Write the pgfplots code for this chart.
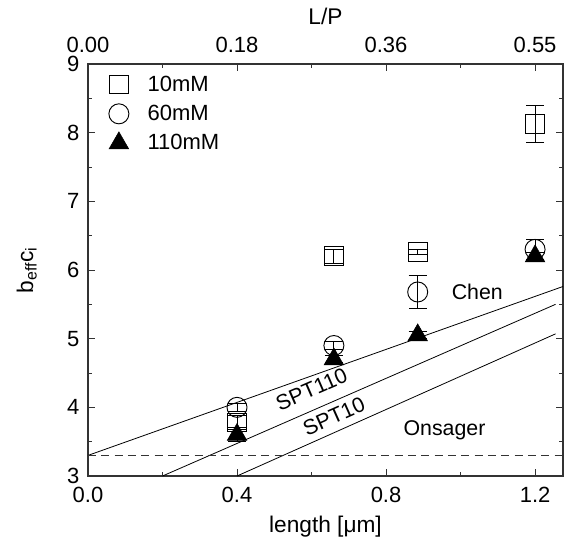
\documentclass[border=0pt]{standalone}
\usepackage{pgfplots}
\pgfplotsset{compat=1.18}
\usepackage{fontspec}
\setmainfont{Liberation Sans}

\begin{document}
\begin{tikzpicture}
\pgfplotsset{
  common/.style={
    scale only axis, width=356.25pt, height=309pt,
    xmin=0, xmax=1.275, ymin=3, ymax=9,
    tick align=inside,
    major tick length=5pt, minor tick length=2.8pt,
    axis line style={line width=0.8pt, black!80},
    every tick/.style={line width=0.7pt, black!80},
    tick label style={font=\fontsize{16.5}{19}\selectfont},
    /pgf/number format/assume math mode=true,
  }
}
% top axis: L/P
\begin{axis}[common,
    axis x line*=top, axis y line=none,
    xtick={0,0.4,0.8,1.2}, xticklabels={0.00,0.18,0.36,0.55},
    minor x tick num=1,
    xticklabel style={yshift=5pt},
    xlabel={L/P},
    every axis x label/.style={at={(axis description cs:0.5,1)}, yshift=36pt, anchor=center,
      font=\fontsize{17}{20}\selectfont},
  ]
\end{axis}
% main axis
\begin{axis}[common, name=main,
    xtick={0,0.4,0.8,1.2}, xticklabels={0.0,0.4,0.8,1.2},
    minor x tick num=1, xtick pos=lower,
    xticklabel style={yshift=-5pt},
    yticklabel style={xshift=-3pt},
    ytick={3,4,5,6,7,8,9}, minor y tick num=1,
    xlabel={length [μm]},
    ylabel={b\textsubscript{eff}c\textsubscript{i}},
    every axis x label/.style={at={(axis description cs:0.5,0)}, yshift=-38pt, anchor=center,
      font=\fontsize{17}{20}\selectfont},
    every axis y label/.style={at={(axis description cs:0,0.5)}, xshift=-46pt, rotate=90, anchor=center,
      font=\fontsize{17}{20}\selectfont},
    legend style={draw=none, fill=none, at={(0.035,0.985)}, anchor=north west,
      font=\fontsize{16.5}{19}\selectfont, row sep=5pt, column sep=12pt},
    legend cell align=left,
  ]
% theory lines
\addplot[black, line width=0.6pt, forget plot] coordinates {(0,3.3) (1.275,5.76)};
\addplot[black, line width=0.6pt, forget plot] coordinates {(0.2,3) (1.255,5.5)};
\addplot[black, line width=0.6pt, forget plot] coordinates {(0.4,3) (1.255,5.07)};
\addplot[black!80, line width=0.6pt, dash pattern=on 6pt off 4pt, forget plot] coordinates {(0,3.3) (1.275,3.3)};

% 10mM
\addplot[black, only marks, mark=square, mark size=7pt, mark options={line width=0.7pt},
  error bars/.cd, y dir=both, y explicit,
  error bar style={line width=0.7pt, black},
  error mark options={rotate=90, mark size=6.75pt, line width=0.7pt, black}]
  coordinates {(0.4,3.78) +- (0,0.1) (0.66,6.2) +- (0,0.1) (0.885,6.26) +- (0,0.04) (1.2,8.13) +- (0,0.27)};
\addlegendentry{10mM}
% 60mM
\addplot[black, only marks, mark=o, mark size=7.5pt, mark options={line width=0.7pt},
  error bars/.cd, y dir=both, y explicit,
  error bar style={line width=0.7pt, black},
  error mark options={rotate=90, mark size=6.75pt, line width=0.7pt, black}]
  coordinates {(0.4,4.0) +- (0,0.06) (0.66,4.9) +- (0,0.06) (0.885,5.68) +- (0,0.24) (1.2,6.3) +- (0,0.14)};
\addlegendentry{60mM}
% 110mM
\addplot[black, only marks, mark=triangle*, mark size=8.5pt,
  error bars/.cd, y dir=both, y explicit,
  error bar style={line width=0.7pt, black},
  error mark options={rotate=90, mark size=6.75pt, line width=0.7pt, black}]
  coordinates {(0.4,3.6) +- (0,0.1) (0.66,4.7) +- (0,0.05) (0.885,5.05) +- (0,0.05) (1.2,6.2) +- (0,0.05)};
\addlegendentry{110mM}

\node[font=\fontsize{16}{19}\selectfont] at (axis cs:1.045,5.68) {Chen};
\node[font=\fontsize{16}{19}\selectfont, rotate=23.5] at (axis cs:0.6,4.26) {SPT110};
\node[font=\fontsize{16}{19}\selectfont, rotate=24] at (axis cs:0.66,3.87) {SPT10};
\node[font=\fontsize{16}{19}\selectfont] at (axis cs:0.957,3.67) {Onsager};
\end{axis}
\pgfresetboundingbox
\path (main.south west) ++(-66pt,-50.25pt) rectangle ++(423pt,407.25pt);
\end{tikzpicture}
\end{document}
